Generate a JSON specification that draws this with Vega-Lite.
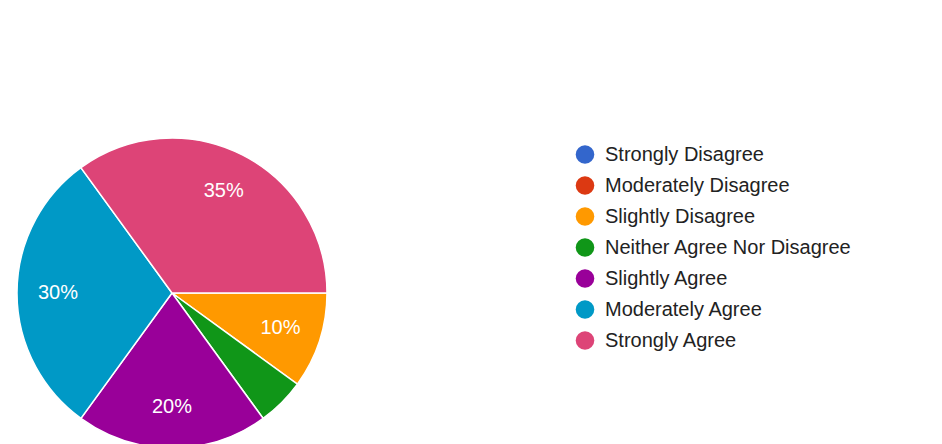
{
  "$schema": "https://vega.github.io/schema/vega-lite/v6.json",
  "width": 324,
  "height": 298,
  "autosize": "none",
  "padding": {"left": 10, "top": 144, "right": 608, "bottom": 2},
  "background": "white",
  "config": {"view": {"stroke": null}, "font": "Liberation Sans"},
  "data": {
    "values": [
      {"response": "Strongly Disagree", "share": 0, "rank": 1},
      {"response": "Moderately Disagree", "share": 0, "rank": 2},
      {"response": "Slightly Disagree", "share": 0.10, "rank": 3},
      {"response": "Neither Agree Nor Disagree", "share": 0.05, "rank": 4},
      {"response": "Slightly Agree", "share": 0.20, "rank": 5},
      {"response": "Moderately Agree", "share": 0.30, "rank": 6},
      {"response": "Strongly Agree", "share": 0.35, "rank": 7}
    ]
  },
  "encoding": {
    "theta": {"field": "share", "type": "quantitative", "stack": true, "scale": {"range": [1.5708, 7.854]}},
    "order": {"field": "rank", "type": "quantitative"}
  },
  "layer": [
    {
      "mark": {"type": "arc", "outerRadius": 155, "stroke": "white", "strokeWidth": 1.5},
      "encoding": {
        "color": {
          "field": "response",
          "type": "nominal",
          "sort": ["Strongly Disagree", "Moderately Disagree", "Slightly Disagree", "Neither Agree Nor Disagree", "Slightly Agree", "Moderately Agree", "Strongly Agree"],
          "scale": {
            "domain": ["Strongly Disagree", "Moderately Disagree", "Slightly Disagree", "Neither Agree Nor Disagree", "Slightly Agree", "Moderately Agree", "Strongly Agree"],
            "range": ["#3366CC", "#DC3912", "#FF9900", "#109618", "#990099", "#0099C6", "#DD4477"]
          },
          "legend": {
            "title": null,
            "orient": "none",
            "legendX": 565,
            "legendY": 0.5,
            "symbolType": "circle",
            "symbolSize": 346,
            "symbolStrokeWidth": 0,
            "symbolOpacity": 1,
            "labelFontSize": 20,
            "labelFont": "Liberation Sans",
            "labelColor": "#222222",
            "labelOffset": 10,
            "rowPadding": 11,
            "labelLimit": 400
          }
        }
      }
    },
    {
      "mark": {"type": "text", "radius": 114, "fontSize": 20, "color": "white", "font": "Liberation Sans"},
      "encoding": {
        "text": {
          "condition": {"test": "datum.share < 0.1", "value": ""},
          "field": "share", "type": "quantitative", "format": ".0%"
        }
      }
    }
  ]
}
